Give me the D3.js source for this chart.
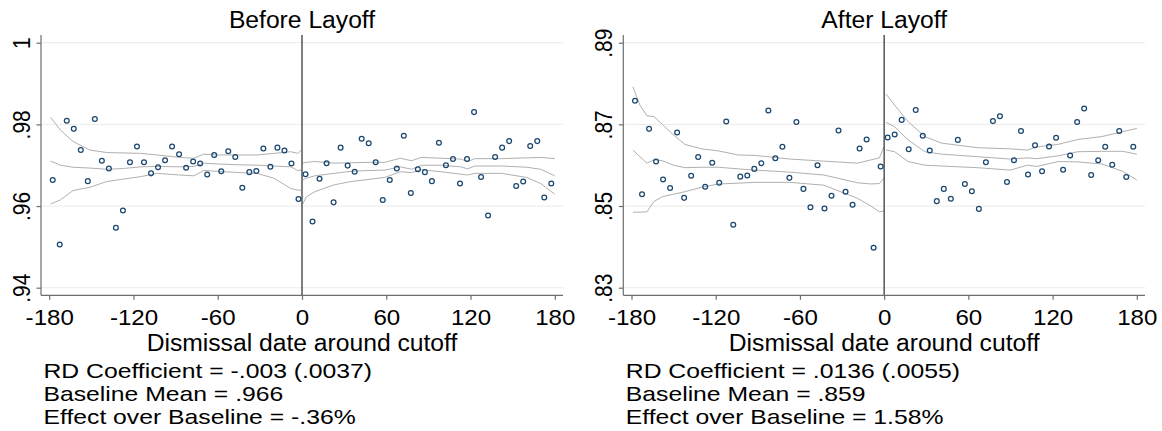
<!DOCTYPE html>
<html><head><meta charset="utf-8">
<script src="https://cdn.jsdelivr.net/npm/d3@7"></script>
<style>
body{margin:0;background:#fff}
svg{display:block}
text{font-family:"Liberation Sans",Arial,Helvetica,sans-serif;fill:#000}
</style>
</head><body>
<svg id="c" width="1162" height="431"></svg>
<script>
// ---------- data ----------
const xTicks = [-180, -120, -60, 0, 60, 120, 180];
const xTickLabels = ["-180", "-120", "-60", "0", "60", "120", "180"];
const xTitle = "Dismissal date around cutoff";

const binsLeft = [-177.5,-172.5,-167.5,-162.5,-157.5,-152.5,-147.5,-142.5,-137.5,-132.5,-127.5,-122.5,
  -117.5,-112.5,-107.5,-102.5,-97.5,-92.5,-87.5,-82.5,-77.5,-72.5,-67.5,-62.5,-57.5,-52.5,-47.5,-42.5,
  -37.5,-32.5,-27.5,-22.5,-17.5,-12.5,-7.5,-2.5];
const binsRight = [2.5,7.5,12.5,17.5,22.5,27.5,32.5,37.5,42.5,47.5,52.5,57.5,62.5,67.5,72.5,77.5,82.5,87.5,
  92.5,97.5,102.5,107.5,112.5,117.5,122.5,127.5,132.5,137.5,142.5,147.5,152.5,157.5,162.5,167.5,172.5,177.5];

// Before Layoff
const beforeTitle = "Before Layoff";
const beforeYTicks = [0.94, 0.96, 0.98, 1];
const beforeYTickLabels = [".94", ".96", ".98", "1"];
const beforeDotsLeft = [.9664,.9506,.9809,.9789,.9737,.9661,.9813,.9711,.9692,.9547,.9589,.9707,
  .9746,.9707,.9680,.9695,.9712,.9746,.9727,.9694,.9709,.9704,.9677,.9725,.9685,.9734,.9720,.9645,
  .9683,.9686,.9741,.9696,.9743,.9736,.9704,.9617];
const beforeDotsRight = [.9678,.9562,.9667,.9705,.9609,.9743,.9699,.9684,.9765,.9754,.9707,.9615,
  .9664,.9692,.9772,.9632,.9690,.9683,.9661,.9755,.9700,.9715,.9655,.9715,.9830,.9671,.9577,.9720,
  .9743,.9759,.9649,.9660,.9747,.9759,.9621,.9655];
const beforeFitXLeft = [-179,-172,-163,-151,-139,-127,-115,-103,-87,-77,-70,-60,-45,-32,-20,-8,-3,-0.5];
const beforeUpperLeft = [.9817,.9786,.9758,.9737,.9731,.9730,.9729,.9725,.9719,.9717,.9727,.9725,.9725,.9725,.9729,.9733,.9729,.9737];
const beforeFitLeft   = [.9710,.9700,.9695,.9693,.9690,.9692,.9696,.9697,.9696,.9697,.9705,.9703,.9701,.9700,.9698,.9696,.9687,.9688];
const beforeLowerLeft = [.9605,.9615,.9638,.9646,.9660,.9666,.9672,.9680,.9676,.9674,.9687,.9685,.9682,.9680,.9668,.9643,.9639,.9639];
const beforeFitXRight = [0.5,3,9,23,35,47,59,70,78,85,99,113,118,123,142,160,170,180];
const beforeUpperRight = [.9705,.9707,.9709,.9705,.9706,.9707,.9707,.9717,.9711,.9719,.9717,.9715,.9709,.9716,.9716,.9718,.9719,.9716];
const beforeFitRight   = [.9664,.9668,.9674,.9680,.9685,.9687,.9688,.9696,.9690,.9700,.9700,.9696,.9691,.9698,.9698,.9695,.9690,.9674];
const beforeLowerRight = [.9605,.9622,.9635,.9652,.9660,.9665,.9670,.9684,.9682,.9689,.9684,.9678,.9676,.9680,.9680,.9670,.9655,.9629];
const beforeNotes = ["RD Coefficient = -.003 (.0037)", "Baseline Mean = .966", "Effect over Baseline = -.36%"];

// After Layoff
const afterTitle = "After Layoff";
const afterYTicks = [0.83, 0.85, 0.87, 0.89];
const afterYTickLabels = [".83", ".85", ".87", ".89"];
const afterDotsLeft = [.8758,.8529,.8689,.8609,.8565,.8544,.8680,.8520,.8574,.8620,.8547,.8606,
  .8557,.8707,.8454,.8572,.8575,.8591,.8605,.8734,.8617,.8645,.8569,.8706,.8542,.8497,.8600,.8494,
  .8525,.8685,.8535,.8503,.8641,.8663,.8398,.8597];
const afterDotsRight = [.8668,.8675,.8711,.8639,.8735,.8672,.8636,.8512,.8542,.8518,.8662,.8554,
  .8536,.8493,.8607,.8708,.8720,.8559,.8612,.8684,.8577,.8649,.8585,.8646,.8667,.8589,.8624,.8706,
  .8739,.8576,.8612,.8645,.8601,.8684,.8571,.8645];
const afterFitXLeft = [-179,-174,-169,-164,-158,-150,-142,-130,-118,-104,-92,-67,-43,-19,-9.4,-3.4,-0.2];
const afterUpperLeft = [.8792,.8747,.8721,.8719,.8700,.8674,.8651,.8640,.8635,.8625,.8624,.8615,.8610,.8605,.8613,.8618,.8645];
const afterFitLeft   = [.8637,.8621,.8605,.8613,.8611,.8600,.8594,.8595,.8595,.8591,.8588,.8583,.8576,.8557,.8554,.8555,.8568];
const afterLowerLeft = [.8485,.8485,.8486,.8511,.8523,.8529,.8535,.8546,.8554,.8556,.8558,.8558,.8551,.8519,.8500,.8486,.8488];
const afterFitXRight = [1.4,7.5,17,29,41,66,90,102,109,124,138,155,170,180];
const afterUpperRight = [.8774,.8747,.8707,.8670,.8654,.8643,.8640,.8637,.8645,.8651,.8663,.8670,.8682,.8690];
const afterFitRight   = [.8705,.8694,.8662,.8633,.8627,.8621,.8615,.8618,.8616,.8623,.8633,.8634,.8634,.8627];
const afterLowerRight = [.8637,.8633,.8609,.8600,.8598,.8594,.8588,.8600,.8597,.8609,.8608,.8603,.8585,.8564];
const afterNotes = ["RD Coefficient = .0136 (.0055)", "Baseline Mean = .859", "Effect over Baseline = 1.58%"];

// ---------- drawing ----------
const svg = d3.select("#c");
const SX = 1.05;
const FONT = 23.5;
const NOTE_FONT = 20.6, NOTE_SX = 1.2;
const TOP = 35, BOTTOM = 295.3, PAD = 8.2;

const panels = [
  {left: 41, right: 563, title: beforeTitle, yTicks: beforeYTicks, yLabels: beforeYTickLabels,
   dotsL: beforeDotsLeft, dotsR: beforeDotsRight,
   fitL: [beforeFitXLeft, beforeUpperLeft, beforeFitLeft, beforeLowerLeft],
   fitR: [beforeFitXRight, beforeUpperRight, beforeFitRight, beforeLowerRight], notes: beforeNotes},
  {left: 623.3, right: 1145, title: afterTitle, yTicks: afterYTicks, yLabels: afterYTickLabels,
   dotsL: afterDotsLeft, dotsR: afterDotsRight,
   fitL: [afterFitXLeft, afterUpperLeft, afterFitLeft, afterLowerLeft],
   fitR: [afterFitXRight, afterUpperRight, afterFitRight, afterLowerRight], notes: afterNotes}
];

panels.forEach(p => {
  const g = svg.append("g");
  const x = d3.scaleLinear().domain([-180, 180]).range([p.left + PAD, p.right - PAD]);
  const y = d3.scaleLinear().domain([p.yTicks[0], p.yTicks[p.yTicks.length - 1]]).range([287.7, 42.7]);

  // gridlines
  g.append("g").selectAll("line").data(p.yTicks).join("line")
    .attr("x1", p.left + 1).attr("x2", p.right)
    .attr("y1", d => y(d)).attr("y2", d => y(d))
    .attr("stroke", "#ebebeb").attr("stroke-width", 1);

  // fitted lines and CIs
  const line = d3.line().x(d => x(d[0])).y(d => y(d[1]));
  [p.fitL, p.fitR].forEach(f => {
    const xs = f[0];
    [f[1], f[2], f[3]].forEach(vals => {
      g.append("path").datum(xs.map((v, i) => [v, vals[i]]))
        .attr("d", line).attr("fill", "none")
        .attr("stroke", "#b0b0b0").attr("stroke-width", 1);
    });
  });

  // cutoff line
  g.append("line").attr("x1", x(0)).attr("x2", x(0)).attr("y1", TOP).attr("y2", BOTTOM)
    .attr("stroke", "#3a3a3a").attr("stroke-width", 1.3);

  // markers
  const pts = binsLeft.map((b, i) => [b, p.dotsL[i]]).concat(binsRight.map((b, i) => [b, p.dotsR[i]]));
  g.append("g").selectAll("circle").data(pts).join("circle")
    .attr("cx", d => x(d[0])).attr("cy", d => y(d[1])).attr("r", 2.4)
    .attr("fill", "none").attr("stroke", "#1a476f").attr("stroke-width", 1.25);

  // axes lines
  g.append("line").attr("x1", p.left).attr("x2", p.left).attr("y1", TOP).attr("y2", BOTTOM)
    .attr("stroke", "#6e6e6e").attr("stroke-width", 1.2);
  g.append("line").attr("x1", p.left).attr("x2", p.right).attr("y1", BOTTOM).attr("y2", BOTTOM)
    .attr("stroke", "#6e6e6e").attr("stroke-width", 1.2);

  // x axis
  const xa = g.append("g").attr("transform", `translate(0,${BOTTOM})`)
    .call(d3.axisBottom(x).tickValues(xTicks).tickSize(4.5).tickSizeOuter(0)
      .tickFormat((d, i) => xTickLabels[i]));
  xa.select(".domain").remove();
  xa.selectAll(".tick line").attr("stroke", "#6e6e6e").attr("stroke-width", 1.2);
  xa.selectAll(".tick text").attr("y", 30.2).attr("dy", null)
    .attr("transform", `scale(1.07,1)`).attr("text-anchor", "middle")
    .style("font-size", "22.5px").attr("fill", "#000");

  // y axis
  const ya = g.append("g").attr("transform", `translate(${p.left},0)`)
    .call(d3.axisLeft(y).tickValues(p.yTicks).tickSize(4.5).tickSizeOuter(0)
      .tickFormat((d, i) => p.yLabels[i]));
  ya.select(".domain").remove();
  ya.selectAll(".tick line").attr("stroke", "#6e6e6e").attr("stroke-width", 1.2);
  ya.selectAll(".tick text").attr("x", null).attr("y", 0).attr("dy", null)
    .attr("transform", `translate(-11,0) scale(1.1,1) rotate(-90)`)
    .attr("text-anchor", "middle").style("font-size", "21px").attr("fill", "#000");

  // title
  g.append("text").attr("transform", `translate(${x(0)},27.7) scale(${SX},1)`)
    .attr("text-anchor", "middle").style("font-size", FONT + "px").text(p.title);
  // x title
  g.append("text").attr("transform", `translate(${x(0)},350.5) scale(${SX},1)`)
    .attr("text-anchor", "middle").style("font-size", FONT + "px").text(xTitle);
  // notes
  p.notes.forEach((t, i) => {
    g.append("text").attr("transform", `translate(${p.left + 2.5},${377.5 + 23.2 * i}) scale(${NOTE_SX},1)`)
      .style("font-size", NOTE_FONT + "px").text(t);
  });
});
</script>
</body></html>
